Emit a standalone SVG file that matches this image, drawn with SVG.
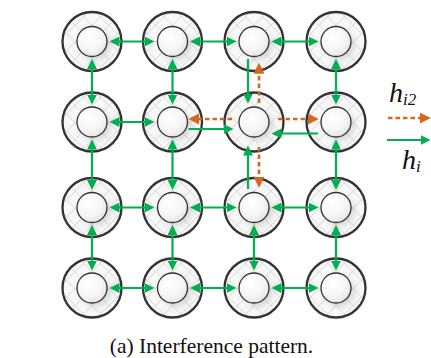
<svg xmlns="http://www.w3.org/2000/svg" width="431" height="358" viewBox="0 0 431 358">
  <defs>
    <!-- cross-hatched fill of the outer ring -->
    <pattern id="hatch" patternUnits="userSpaceOnUse" width="12" height="12" patternTransform="rotate(45)">
      <rect width="12" height="12" fill="#f8f8f8"/>
      <path d="M0 0H12M0 0V12" stroke="#dadada" stroke-width="1.7" fill="none"/>
    </pattern>
    <radialGradient id="core" cx="0.4" cy="0.35" r="0.7">
      <stop offset="0" stop-color="#ffffff"/>
      <stop offset="0.6" stop-color="#f6f6f6"/>
      <stop offset="1" stop-color="#e2e2e2"/>
    </radialGradient>
    <filter id="soft" x="-50%" y="-50%" width="200%" height="200%">
      <feGaussianBlur stdDeviation="3"/>
    </filter>
    <!-- node glyph: hatched ring with inner disc -->
    <g id="cell">
      <circle r="29.5" fill="url(#hatch)" stroke="#333" stroke-width="2.3"/>
      <circle cx="3.5" cy="3.5" r="15" fill="#a0a0a0" opacity="0.4" filter="url(#soft)"/>
      <circle r="15" fill="url(#core)" stroke="#333" stroke-width="1.3"/>
    </g>
    <marker id="ag" viewBox="0 0 10 10" refX="7" refY="5" markerUnits="userSpaceOnUse" markerWidth="10" markerHeight="10" orient="auto-start-reverse">
      <path d="M0 0L10 5L0 10z" fill="#00b050"/>
    </marker>
    <marker id="ao" viewBox="0 0 10 10" refX="7" refY="5" markerUnits="userSpaceOnUse" markerWidth="11" markerHeight="11" orient="auto-start-reverse">
      <path d="M0 0L10 5L0 10z" fill="#d2691e"/>
    </marker>
  </defs>
  <style>
    .g { stroke: #00b050; stroke-width: 2.2; fill: none; }
    .gd { marker-start: url(#ag); marker-end: url(#ag); }
    .gs { marker-end: url(#ag); }
    .o { stroke: #d2691e; stroke-width: 2.6; stroke-dasharray: 4.5 3; fill: none; marker-end: url(#ao); }
    .math { font-family: "Liberation Serif", "Times New Roman", serif; font-style: italic; fill: #111; }
    .cap { font-family: "Liberation Serif", "Times New Roman", serif; font-size: 21.5px; fill: #111; }
  </style>

  <!-- nodes: columns x = 92, 172.5, 254, 336; rows y = 41.5, 122, 207.5, 288 -->
  <g id="n11"><use href="#cell" x="92" y="41.5"/></g>
  <g id="n12"><use href="#cell" x="172.5" y="41.5"/></g>
  <g id="n13"><use href="#cell" x="254" y="41.5"/></g>
  <g id="n14"><use href="#cell" x="336" y="41.5"/></g>
  <g id="n21"><use href="#cell" x="92" y="122"/></g>
  <g id="n22"><use href="#cell" x="172.5" y="122"/></g>
  <g id="n23"><use href="#cell" x="254" y="122"/></g>
  <g id="n24"><use href="#cell" x="336" y="122"/></g>
  <g id="n31"><use href="#cell" x="92" y="207.5"/></g>
  <g id="n32"><use href="#cell" x="172.5" y="207.5"/></g>
  <g id="n33"><use href="#cell" x="254" y="207.5"/></g>
  <g id="n34"><use href="#cell" x="336" y="207.5"/></g>
  <g id="n41"><use href="#cell" x="92" y="288"/></g>
  <g id="n42"><use href="#cell" x="172.5" y="288"/></g>
  <g id="n43"><use href="#cell" x="254" y="288"/></g>
  <g id="n44"><use href="#cell" x="336" y="288"/></g>

  <g id="connectors">
    <!-- horizontal two-way links -->
    <line class="g gd" x1="112.5" y1="41.5" x2="151.5" y2="41.5"/>
    <line class="g gd" x1="193" y1="41.5" x2="233.5" y2="41.5"/>
    <line class="g gd" x1="274.5" y1="41.5" x2="315.5" y2="41.5"/>
    <line class="g gd" x1="112.5" y1="122" x2="151.5" y2="122"/>
    <line class="g gd" x1="112.5" y1="207.5" x2="151.5" y2="207.5"/>
    <line class="g gd" x1="193" y1="207.5" x2="233.5" y2="207.5"/>
    <line class="g gd" x1="274.5" y1="207.5" x2="315.5" y2="207.5"/>
    <line class="g gd" x1="112.5" y1="288" x2="151.5" y2="288"/>
    <line class="g gd" x1="193" y1="288" x2="233.5" y2="288"/>
    <line class="g gd" x1="274.5" y1="288" x2="315.5" y2="288"/>
    <!-- vertical two-way links -->
    <line class="g gd" x1="92" y1="62" x2="92" y2="101.5"/>
    <line class="g gd" x1="172.5" y1="62" x2="172.5" y2="101.5"/>
    <line class="g gd" x1="336" y1="62" x2="336" y2="101.5"/>
    <line class="g gd" x1="92" y1="142.5" x2="92" y2="187"/>
    <line class="g gd" x1="172.5" y1="142.5" x2="172.5" y2="187"/>
    <line class="g gd" x1="336" y1="142.5" x2="336" y2="187"/>
    <line class="g gd" x1="92" y1="228" x2="92" y2="267.5"/>
    <line class="g gd" x1="172.5" y1="228" x2="172.5" y2="267.5"/>
    <line class="g gd" x1="254" y1="228" x2="254" y2="267.5"/>
    <line class="g gd" x1="336" y1="228" x2="336" y2="267.5"/>
    <!-- one-way links into the centre node -->
    <line class="g gs" x1="248" y1="59" x2="248" y2="100.5"/>
    <line class="g gs" x1="188.5" y1="129" x2="230.5" y2="129"/>
    <line class="g gs" x1="318" y1="133.5" x2="274.5" y2="133.5"/>
    <line class="g gs" x1="248" y1="189" x2="248" y2="148.5"/>
    <!-- dashed second-hop links out of the centre node -->
    <line class="o" x1="259" y1="103" x2="259" y2="66"/>
    <line class="o" x1="278" y1="119" x2="315.5" y2="119"/>
    <line class="o" x1="232" y1="119" x2="191.5" y2="119"/>
    <line class="o" x1="259" y1="147" x2="259" y2="184.5"/>
  </g>

  <!-- legend -->
  <g id="legend">
    <text class="math" x="389" y="101.5" font-size="28">h<tspan font-size="17" dy="3">i2</tspan></text>
    <line class="o" x1="388" y1="118" x2="427.5" y2="118"/>
    <line class="g gs" x1="387" y1="140" x2="427.5" y2="140"/>
    <text class="math" x="402" y="168.5" font-size="28">h<tspan font-size="17" dy="3">i</tspan></text>
  </g>

  <text class="cap" x="211.5" y="352.5" text-anchor="middle">(a) Interference pattern.</text>
</svg>
